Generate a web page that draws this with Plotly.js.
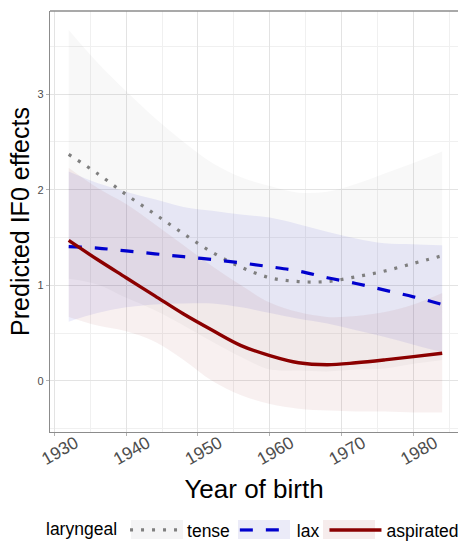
<!DOCTYPE html>
<html>
<head>
<meta charset="utf-8">
<script src="https://cdn.plot.ly/plotly-3.0.1.min.js"></script>
<style>html,body{margin:0;padding:0;background:#fff;}#chart{width:458px;height:543px;}</style>
</head>
<body>
<div id="chart"></div>
<script>
// Year of birth (x)
const years = [1932, 1936, 1940, 1944, 1948, 1952, 1956, 1960, 1964, 1968, 1972, 1976, 1980, 1984];

// tense
const tenseMean  = [2.37, 2.17, 1.95, 1.745, 1.54, 1.345, 1.19, 1.08, 1.04, 1.04, 1.09, 1.15, 1.23, 1.31];
const tenseUpper = [3.67, 3.33, 3.03, 2.75, 2.50, 2.28, 2.13, 2.04, 1.97, 1.98, 2.06, 2.17, 2.28, 2.40];
const tenseLower = [1.07, 1.01, 0.87, 0.74, 0.58, 0.41, 0.25, 0.12, 0.11, 0.10, 0.12, 0.13, 0.18, 0.22];

// lax
const laxMean  = [1.405, 1.39, 1.36, 1.33, 1.30, 1.27, 1.235, 1.195, 1.15, 1.08, 1.02, 0.95, 0.88, 0.80];
const laxUpper = [2.19, 2.07, 1.98, 1.90, 1.82, 1.78, 1.74, 1.71, 1.64, 1.56, 1.49, 1.44, 1.43, 1.42];
const laxLower = [0.62, 0.71, 0.77, 0.80, 0.81, 0.81, 0.77, 0.71, 0.65, 0.60, 0.53, 0.46, 0.38, 0.30];

// aspirated
const aspMean  = [1.47, 1.27, 1.08, 0.89, 0.70, 0.53, 0.37, 0.265, 0.19, 0.17, 0.19, 0.22, 0.255, 0.29];
const aspUpper = [2.23, 2.02, 1.85, 1.64, 1.42, 1.20, 1.00, 0.82, 0.72, 0.67, 0.68, 0.72, 0.80, 0.92];
const aspLower = [0.67, 0.58, 0.52, 0.41, 0.22, 0.00, -0.15, -0.24, -0.29, -0.31, -0.32, -0.32, -0.33, -0.33];

const seriesNames = ["tense", "lax", "aspirated"];
const xTicks = [1930, 1940, 1950, 1960, 1970, 1980];
const yTicks = [0, 1, 2, 3];

const colTense = "#7f7f7f", colLax = "#0000CD", colAsp = "#8B0000";
const fillTense = "rgba(127,127,127,0.055)";
const fillLax = "rgba(0,0,205,0.07)";
const fillAsp = "rgba(139,0,0,0.06)";
// legend key backgrounds
const keyFills = ["#f4f4f5", "#ebebf8", "#f6ecec"];

function ribbon(lower, upper, fill, grp) {
  return [
    {x: years, y: lower, type: "scatter", mode: "lines", line: {width: 0, shape: "spline"}, hoverinfo: "skip", showlegend: false, legendgroup: grp},
    {x: years, y: upper, type: "scatter", mode: "lines", line: {width: 0, shape: "spline"}, fill: "tonexty", fillcolor: fill, hoverinfo: "skip", showlegend: false, legendgroup: grp}
  ];
}

const traces = [].concat(
  ribbon(tenseLower, tenseUpper, fillTense, "t"),
  ribbon(laxLower, laxUpper, fillLax, "l"),
  ribbon(aspLower, aspUpper, fillAsp, "a"),
  [
    {x: years, y: tenseMean, type: "scatter", mode: "lines", name: seriesNames[0], legendgroup: "t",
     line: {color: colTense, width: 3.2, dash: "3px,8px", shape: "spline"}},
    {x: years, y: laxMean, type: "scatter", mode: "lines", name: seriesNames[1], legendgroup: "l",
     line: {color: colLax, width: 3.2, dash: "13px,13px", shape: "spline"}},
    {x: years, y: aspMean, type: "scatter", mode: "lines", name: seriesNames[2], legendgroup: "a",
     line: {color: colAsp, width: 3.4, shape: "spline"}}
  ]
);

// legend key boxes (paper coordinates, behind the legend)
const keyX = [[131, 183], [238, 290], [323, 375]];
const px2paperX = p => (p - 50) / 408;
const px2paperY = p => (432 - p) / 421;
const keyShapes = keyX.map((k, i) => ({
  type: "rect", xref: "paper", yref: "paper", layer: "above",
  x0: px2paperX(k[0]), x1: px2paperX(k[1]), y0: px2paperY(539), y1: px2paperY(520),
  fillcolor: keyFills[i], line: {width: 0}
}));

const layout = {
  width: 458, height: 543,
  margin: {l: 50, r: 0, t: 11, b: 111, autoexpand: false},
  paper_bgcolor: "#fff", plot_bgcolor: "#fff",
  font: {family: "Liberation Sans, Arial, sans-serif", color: "#000"},
  showlegend: true,
  legend: {
    orientation: "h", x: 0.5, xanchor: "center", y: -0.233, yanchor: "middle",
    bgcolor: "rgba(0,0,0,0)",
    font: {size: 17.5, color: "#000"},
    title: {text: "laryngeal", font: {size: 17.5, color: "#000"}, side: "left"},
    itemwidth: 52, tracegroupgap: 0
  },
  xaxis: {
    range: [1929.4, 1986.2],
    tickvals: xTicks, ticktext: xTicks.map(String),
    tickangle: -30, tickfont: {size: 17.5, color: "#4d4d4d"},
    ticklabelshift: 21, ticklabelstandoff: -10,
    ticks: "outside", ticklen: 3, tickcolor: "#b3b3b3",
    showgrid: true, gridcolor: "#e3e3e3", gridwidth: 1,
    minor: {dtick: 5, tick0: 1925, showgrid: true, gridcolor: "#f0f0f0", gridwidth: 1},
    showline: true, linecolor: "#8c8c8c", linewidth: 1.3,
    zeroline: false, automargin: true,
    title: {text: "Year of birth", font: {size: 26, color: "#000"}, standoff: 11}
  },
  yaxis: {
    range: [-0.534, 3.87],
    tickvals: yTicks, ticktext: yTicks.map(String),
    tickfont: {size: 11, color: "#4d4d4d"},
    ticks: "outside", ticklen: 3, tickcolor: "#b3b3b3",
    showgrid: true, gridcolor: "#e3e3e3", gridwidth: 1,
    minor: {dtick: 0.5, tick0: 0, showgrid: true, gridcolor: "#f0f0f0", gridwidth: 1},
    showline: true, linecolor: "#8c8c8c", linewidth: 1.3,
    zeroline: false, automargin: true,
    title: {text: "Predicted IF0 effects", font: {size: 25, color: "#000"}, standoff: 0}
  },
  shapes: [
    {type: "line", xref: "paper", yref: "paper", x0: 0, x1: 1, y0: 1, y1: 1, line: {color: "#8c8c8c", width: 1.3}}
  ].concat(keyShapes)
};

Plotly.newPlot("chart", traces, layout, {displayModeBar: false, staticPlot: true});
</script>
</body>
</html>
